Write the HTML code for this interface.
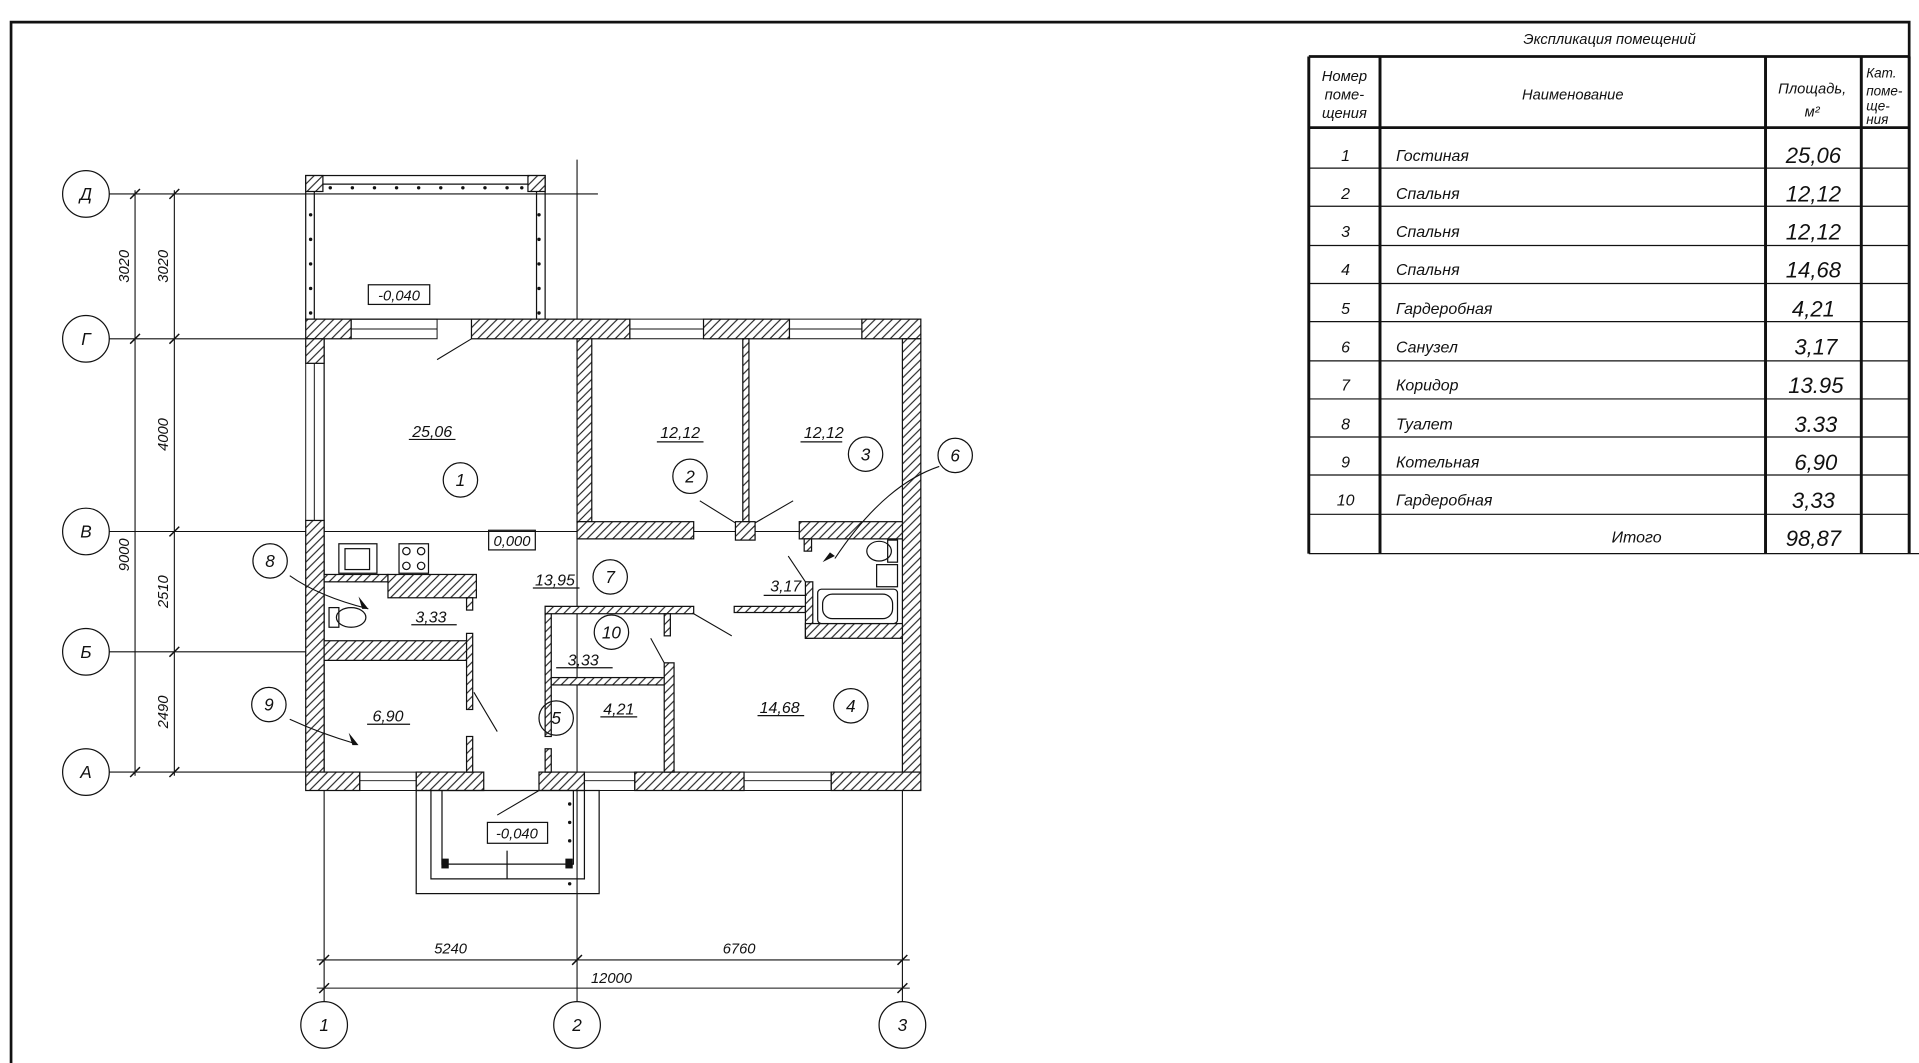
<!DOCTYPE html>
<html><head><meta charset="utf-8"><style>
html,body{margin:0;padding:0;background:#fff;width:1919px;height:1063px;overflow:hidden}
svg{display:block}
text{font-family:"Liberation Sans",sans-serif;font-style:italic;fill:#111}
</style></head><body>
<svg width="1919" height="1063" viewBox="0 0 1563 866" preserveAspectRatio="none" xmlns="http://www.w3.org/2000/svg">
<defs>
<pattern id="h" patternUnits="userSpaceOnUse" width="7" height="7">
<rect width="7" height="7" fill="#fff"/>
<path d="M0,7 L7,0 M-1,1 L1,-1 M6,8 L8,6" stroke="#222" stroke-width="0.9"/>
</pattern>
</defs>
<g fill="none" stroke="#111">
<path d="M9,870 L9,18 L1555,18 L1555,48" stroke-width="2.2"/>
<line x1="1066" y1="46" x2="1555" y2="46" stroke-width="2.2"/>
<line x1="1066" y1="104" x2="1555" y2="104" stroke-width="2.2"/>
<g stroke-width="2.4">
<line x1="1066" y1="46" x2="1066" y2="451"/><line x1="1124" y1="46" x2="1124" y2="451"/>
<line x1="1438" y1="46" x2="1438" y2="451"/><line x1="1516" y1="46" x2="1516" y2="451"/>
<line x1="1555" y1="46" x2="1555" y2="451"/>
</g>
<g stroke-width="1">
<line x1="1066" y1="137" x2="1555" y2="137"/><line x1="1066" y1="168" x2="1555" y2="168"/>
<line x1="1066" y1="200" x2="1555" y2="200"/><line x1="1066" y1="231" x2="1555" y2="231"/>
<line x1="1066" y1="262" x2="1555" y2="262"/><line x1="1066" y1="294" x2="1555" y2="294"/>
<line x1="1066" y1="325" x2="1555" y2="325"/><line x1="1066" y1="356" x2="1555" y2="356"/>
<line x1="1066" y1="387" x2="1555" y2="387"/><line x1="1066" y1="419" x2="1555" y2="419"/>
<line x1="1066" y1="451" x2="1563" y2="451"/>
</g>
<g stroke-width="0.9">
<line x1="89" y1="158" x2="487" y2="158"/><line x1="89" y1="276" x2="264" y2="276"/>
<line x1="89" y1="433" x2="264" y2="433"/><line x1="89" y1="531" x2="264" y2="531"/>
<line x1="89" y1="629" x2="264" y2="629"/>
<line x1="264" y1="276" x2="264" y2="816"/><line x1="470" y1="130" x2="470" y2="816"/><line x1="735" y1="644" x2="735" y2="816"/>
<line x1="264" y1="433" x2="735" y2="433"/>
<line x1="110" y1="155" x2="110" y2="632"/><line x1="142" y1="155" x2="142" y2="632"/>
<line x1="258" y1="782" x2="741" y2="782"/><line x1="258" y1="805" x2="741" y2="805"/>
</g>
<g stroke-width="1.2">
<path d="M106,162 l8,-8 M106,280 l8,-8 M106,633 l8,-8 M138,162 l8,-8 M138,280 l8,-8 M138,437 l8,-8 M138,535 l8,-8 M138,633 l8,-8"/>
<path d="M260,786 l8,-8 M466,786 l8,-8 M731,786 l8,-8 M260,809 l8,-8 M731,809 l8,-8"/>
</g>
<g stroke-width="1">
<circle cx="70" cy="158" r="19"/><circle cx="70" cy="276" r="19"/><circle cx="70" cy="433" r="19"/>
<circle cx="70" cy="531" r="19"/><circle cx="70" cy="629" r="19"/>
<circle cx="264" cy="835" r="19"/><circle cx="470" cy="835" r="19"/><circle cx="735" cy="835" r="19"/>
</g>
<g stroke-width="1">
<rect x="249" y="143" width="195" height="117"/>
<line x1="256" y1="150" x2="256" y2="260"/><line x1="437" y1="150" x2="437" y2="260"/>
<line x1="256" y1="150" x2="437" y2="150"/>
</g>
<g stroke="none" fill="#111">
<circle cx="269" cy="153" r="1.4"/><circle cx="287" cy="153" r="1.4"/><circle cx="305" cy="153" r="1.4"/><circle cx="323" cy="153" r="1.4"/><circle cx="341" cy="153" r="1.4"/><circle cx="359" cy="153" r="1.4"/><circle cx="377" cy="153" r="1.4"/><circle cx="395" cy="153" r="1.4"/><circle cx="413" cy="153" r="1.4"/><circle cx="425" cy="153" r="1.4"/>
<circle cx="253" cy="175" r="1.4"/><circle cx="253" cy="195" r="1.4"/><circle cx="253" cy="215" r="1.4"/><circle cx="253" cy="235" r="1.4"/><circle cx="253" cy="255" r="1.4"/>
<circle cx="439" cy="175" r="1.4"/><circle cx="439" cy="195" r="1.4"/><circle cx="439" cy="215" r="1.4"/><circle cx="439" cy="235" r="1.4"/><circle cx="439" cy="255" r="1.4"/>
<circle cx="464" cy="655" r="1.4"/><circle cx="464" cy="670" r="1.4"/><circle cx="464" cy="685" r="1.4"/><circle cx="464" cy="720" r="1.4"/>
</g>
<g stroke="#111" stroke-width="1" fill="url(#h)">
<rect x="249" y="143" width="14" height="13"/><rect x="430" y="143" width="14" height="13"/>
<rect x="249" y="260" width="37" height="16"/><rect x="384" y="260" width="129" height="16"/>
<rect x="573" y="260" width="70" height="16"/><rect x="702" y="260" width="48" height="16"/>
<rect x="249" y="276" width="15" height="20"/><rect x="249" y="424" width="15" height="205"/>
<rect x="735" y="276" width="15" height="353"/>
<rect x="249" y="629" width="44" height="15"/><rect x="339" y="629" width="55" height="15"/>
<rect x="439" y="629" width="37" height="15"/><rect x="517" y="629" width="89" height="15"/>
<rect x="677" y="629" width="73" height="15"/>
<rect x="470" y="276" width="12" height="149"/>
<rect x="605" y="276" width="5" height="149"/>
<rect x="470" y="425" width="95" height="14"/>
<rect x="599" y="425" width="16" height="15"/>
<rect x="651" y="425" width="84" height="14"/>
<rect x="264" y="468" width="52" height="6"/><rect x="316" y="468" width="72" height="19"/>
<rect x="264" y="522" width="117" height="16"/>
<rect x="380" y="487" width="5" height="10"/><rect x="380" y="516" width="5" height="62"/><rect x="380" y="600" width="5" height="29"/>
<rect x="444" y="494" width="5" height="106"/><rect x="444" y="610" width="5" height="19"/>
<rect x="444" y="494" width="121" height="6"/><rect x="449" y="552" width="97" height="6"/>
<rect x="541" y="500" width="5" height="18"/><rect x="541" y="540" width="8" height="89"/>
<rect x="598" y="494" width="58" height="5"/>
<rect x="656" y="474" width="6" height="46"/><rect x="656" y="508" width="79" height="12"/>
<rect x="655" y="439" width="6" height="10"/>
</g>
<g stroke-width="0.8">
<path d="M286,260 h70 v16 h-70 z M286,268 h70 M513,260 h60 v16 h-60 z M513,268 h60 M643,260 h59 v16 h-59 z M643,268 h59"/>
<path d="M249,296 v128 h15 v-128 M256,296 v128"/>
<path d="M293,629 h46 v15 h-46 z M293,636 h46 M476,629 h41 v15 h-41 z M476,636 h41 M606,629 h71 v15 h-71 z M606,636 h71"/>
</g>
<g stroke-width="1">
<rect x="339" y="644" width="149" height="84"/>
<path d="M351,644 v72 h125 v-72 M360,644 v60 h107 v-60"/>
<line x1="413" y1="693" x2="413" y2="716"/>
</g>
<rect x="360" y="700" width="5" height="7" fill="#111"/><rect x="461" y="700" width="5" height="7" fill="#111"/>
<g stroke-width="1">
<rect x="276" y="443" width="31" height="24"/><rect x="281" y="447" width="20" height="17"/>
<rect x="325" y="443" width="24" height="24"/>
<circle cx="331" cy="449" r="3"/><circle cx="343" cy="449" r="3"/><circle cx="331" cy="461" r="3"/><circle cx="343" cy="461" r="3"/>
<rect x="268" y="495" width="8" height="16"/><ellipse cx="286" cy="503" rx="12" ry="8"/>
<rect x="666" y="480" width="65" height="28" rx="3"/><rect x="670" y="484" width="57" height="20" rx="8"/>
<rect x="723" y="440" width="8" height="18"/><ellipse cx="716" cy="449" rx="10" ry="8"/>
<rect x="714" y="460" width="17" height="18"/>
</g>
<g stroke-width="0.9">
<path d="M356,293 L384,276 M570,408 L599,426 M646,408 L615,426 M642,453 L656,474 M565,500 L596,518 M530,520 L541,540 M386,564 L405,596 M439,644 L405,664"/>
<path d="M236,469 Q260,486 300,496" /><path d="M236,586 Q262,598 290,606"/>
<path d="M765,380 Q720,395 680,455"/>
</g>
<g fill="#111" stroke="none"><path d="M300,496 l-8,-10 l3,10 z M292,607 l-8,-10 l3,10 z M670,458 l10,-5 l-4,-3 z"/></g>
<g stroke-width="1">
<circle cx="375" cy="391" r="14"/><circle cx="562" cy="388" r="14"/><circle cx="705" cy="370" r="14"/>
<circle cx="693" cy="575" r="14"/><circle cx="453" cy="585" r="14"/><circle cx="778" cy="371" r="14"/>
<circle cx="497" cy="470" r="14"/><circle cx="220" cy="457" r="14"/><circle cx="219" cy="574" r="14"/>
<circle cx="498" cy="515" r="14"/>
</g>
<g stroke-width="1"><rect x="300" y="232" width="50" height="16"/><rect x="398" y="432" width="38" height="16"/><rect x="397" y="670" width="49" height="17"/></g>
<g stroke-width="1">
<path d="M333,358 h38 M535,360 h38 M652,360 h34 M434,479 h38 M335,509 h37 M453,544 h46 M489,584 h30 M617,583 h38 M299,590 h35 M622,485 h35"/>
</g>
</g>
<g font-size="14" text-anchor="middle">
<text x="70" y="163">Д</text><text x="70" y="281">Г</text><text x="70" y="438">В</text><text x="70" y="536">Б</text><text x="70" y="634">А</text>
<text x="264" y="840" font-style="normal">1</text><text x="470" y="840" font-style="normal">2</text><text x="735" y="840" font-style="normal">3</text>
</g>
<g font-size="12" text-anchor="middle">
<text transform="translate(105,217) rotate(-90)">3020</text>
<text transform="translate(137,217) rotate(-90)">3020</text>
<text transform="translate(137,354) rotate(-90)">4000</text>
<text transform="translate(105,452) rotate(-90)">9000</text>
<text transform="translate(137,482) rotate(-90)">2510</text>
<text transform="translate(137,580) rotate(-90)">2490</text>
<text x="367" y="777">5240</text><text x="602" y="777">6760</text><text x="498" y="801">12000</text>
</g>
<g font-size="13" text-anchor="middle">
<text x="352" y="356">25,06</text><text x="554" y="357">12,12</text><text x="671" y="357">12,12</text>
<text x="452" y="477">13,95</text><text x="351" y="507">3,33</text><text x="475" y="542">3,33</text>
<text x="504" y="582">4,21</text><text x="635" y="581">14,68</text><text x="316" y="588">6,90</text><text x="640" y="482">3,17</text>
<text x="325" y="245" font-size="12">-0,040</text><text x="417" y="445" font-size="12">0,000</text><text x="421" y="683" font-size="12">-0,040</text>
</g>
<g font-size="14" text-anchor="middle">
<text x="375" y="396">1</text><text x="562" y="393">2</text><text x="705" y="375">3</text><text x="693" y="580">4</text>
<text x="453" y="590">5</text><text x="778" y="376">6</text><text x="497" y="475">7</text><text x="220" y="462">8</text>
<text x="219" y="579">9</text><text x="498" y="520">10</text>
</g>
<g font-size="12">
<text x="1311" y="36" text-anchor="middle">Экспликация помещений</text>
<text x="1095" y="66" text-anchor="middle">Номер</text><text x="1095" y="81" text-anchor="middle">поме-</text><text x="1095" y="96" text-anchor="middle">щения</text>
<text x="1281" y="81" text-anchor="middle">Наименование</text>
<text x="1476" y="76" text-anchor="middle">Площадь,</text><text x="1476" y="95" text-anchor="middle">м²</text>
<text x="1520" y="63" font-size="11">Кат.</text><text x="1520" y="78" font-size="11">поме-</text><text x="1520" y="90" font-size="11">ще-</text><text x="1520" y="101" font-size="11">ния</text>
</g>
<g font-size="13" text-anchor="middle">
<text x="1096" y="131">1</text><text x="1096" y="162">2</text><text x="1096" y="193">3</text><text x="1096" y="224">4</text><text x="1096" y="256">5</text>
<text x="1096" y="287">6</text><text x="1096" y="318">7</text><text x="1096" y="350">8</text><text x="1096" y="381">9</text><text x="1096" y="412">10</text>
</g>
<g font-size="13">
<text x="1137" y="131">Гостиная</text><text x="1137" y="162">Спальня</text><text x="1137" y="193">Спальня</text><text x="1137" y="224">Спальня</text>
<text x="1137" y="256">Гардеробная</text><text x="1137" y="287">Санузел</text><text x="1137" y="318">Коридор</text><text x="1137" y="350">Туалет</text>
<text x="1137" y="381">Котельная</text><text x="1137" y="412">Гардеробная</text>
<text x="1333" y="442" text-anchor="middle">Итого</text>
</g>
<g font-size="18" text-anchor="middle">
<text x="1477" y="133">25,06</text><text x="1477" y="164">12,12</text><text x="1477" y="195">12,12</text><text x="1477" y="226">14,68</text>
<text x="1477" y="258">4,21</text><text x="1479" y="289">3,17</text><text x="1479" y="320">13.95</text><text x="1479" y="352">3.33</text>
<text x="1479" y="383">6,90</text><text x="1477" y="414">3,33</text><text x="1477" y="445">98,87</text>
</g>
</svg>
</body></html>
